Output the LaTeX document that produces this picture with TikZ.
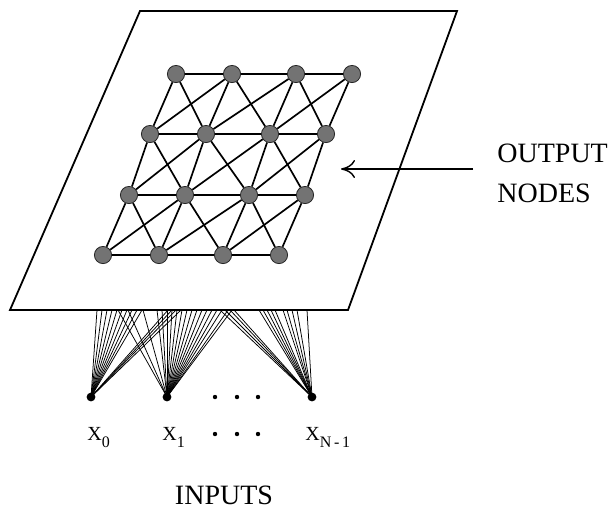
\documentclass[tikz,border=0pt]{standalone}
\usepackage{fontspec}
\setmainfont{Liberation Serif}
\usetikzlibrary{arrows.meta}

\begin{document}
\begin{tikzpicture}[
  x=0.5pt, y=-0.5pt,
  unit/.style={circle, draw=black!85, fill=black!55, line width=0.4pt,
    minimum size=8.6pt, inner sep=0pt},
  link/.style={line width=0.85pt},
  fan/.style={line width=0.38pt},
  inp/.style={circle, fill=black, minimum size=4.4pt, inner sep=0pt},
  dot/.style={circle, fill=black, minimum size=2.2pt, inner sep=0pt},
  lbl/.style={font=\fontsize{10}{11}\selectfont, inner sep=0pt, anchor=base west},
  big/.style={font=\fontsize{14}{16}\selectfont, inner sep=0pt},
  arr/.style={-{To[length=7pt,width=9pt]}, line width=0.7pt},
]
\useasboundingbox (0,0) rectangle (614,510);

% Output plane
\draw[line width=0.9pt] (140,11) -- (457,11) -- (348,310) -- (10,310) -- cycle;

% Output nodes (4 x 4 lattice)
\foreach \r/\y/\x in {1/74/176, 2/134/150, 3/195/129, 4/255/103} {
  \foreach \c/\d in {1/0, 2/56, 3/120, 4/176} {
    \node[unit] (n\r\c) at (\x+\d,\y) {};
  }
}

% Lattice links: rows, columns and both diagonals
\foreach \r in {1,2,3,4} {
  \foreach \c in {1,2,3} {
    \pgfmathtruncatemacro{\cn}{\c+1}
    \draw[link] (n\r\c) -- (n\r\cn);
  }
}
\foreach \r in {1,2,3} {
  \pgfmathtruncatemacro{\rn}{\r+1}
  \foreach \c in {1,2,3,4} {
    \draw[link] (n\r\c) -- (n\rn\c);
  }
  \foreach \c in {1,2,3} {
    \pgfmathtruncatemacro{\cn}{\c+1}
    \draw[link] (n\r\c) -- (n\rn\cn);
    \draw[link] (n\rn\c) -- (n\r\cn);
  }
}

% Input nodes
\node[inp] (x0) at (91,397) {};
\node[inp] (x1) at (167,397) {};
\node[inp] (xn) at (312,397) {};
\foreach \x/\i in {215/1, 237/2, 258/3} {
  \node[dot] (d\i) at (\x,397) {};
  \node[dot] (e\i) at (\x,434) {};
}

% Fan-in connections to the plane
\foreach \t in {97,102,107,112,117,122,127,132,137,142,168,172,176,181}
  \draw[fan] (x0.center) -- (\t,310);
\foreach \t in {118,128,143,157,162,167,172,177,182,187,192,197,202,207,212,217,222,228,232}
  \draw[fan] (x1.center) -- (\t,310);
\foreach \t in {220,225,230,234,259,263,267,271,275,283,287,292,297,307}
  \draw[fan] (xn.center) -- (\t,310);

% Input labels
\node[lbl] (l0) at (87,440) {X\raisebox{-3.5pt}{\fontsize{8}{9}\selectfont 0}};
\node[lbl] (l1) at (162,440) {X\raisebox{-3.5pt}{\fontsize{8}{9}\selectfont 1}};
\node[lbl] (ln) at (305,440) {X\raisebox{-3.5pt}{\fontsize{8}{9}\selectfont N\,-\,1}};
\node[big, anchor=base] (inputs) at (224,504) {INPUTS};

% Output label and pointer
\node[big, anchor=base west] (out1) at (497,162) {OUTPUT};
\node[big, anchor=base west] (out2) at (497,202) {NODES};
\coordinate (pfrom) at (473,169);
\coordinate (pto) at (341,169);
\draw[arr] (pfrom) -- (pto);

\end{tikzpicture}
\end{document}
